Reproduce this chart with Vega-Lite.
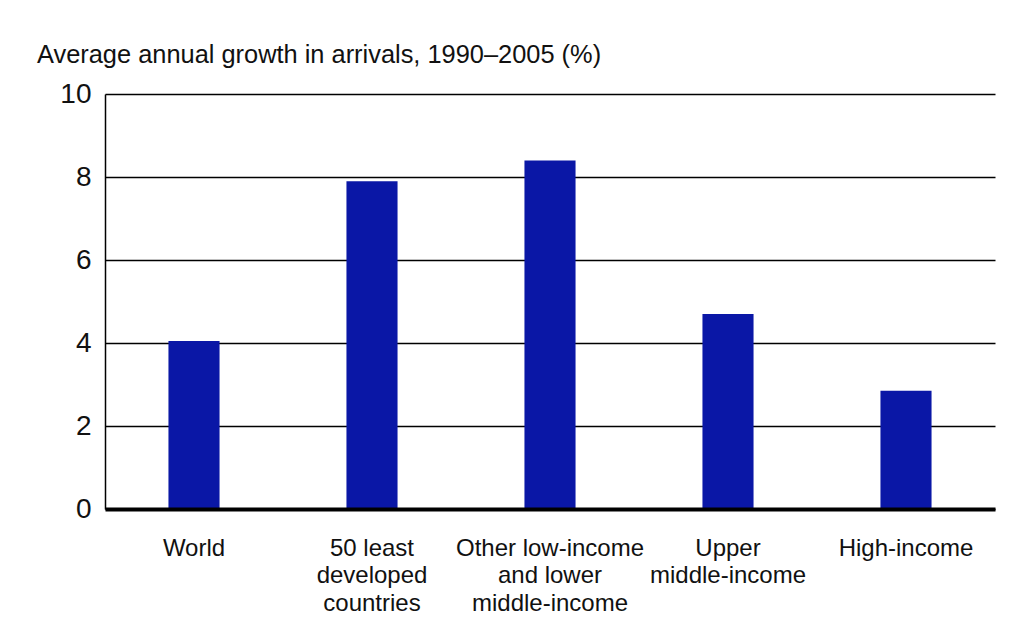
{
  "$schema": "https://vega.github.io/schema/vega-lite/v6.json",
  "autosize": "none",
  "width": 890,
  "height": 415,
  "padding": {"left": 105, "top": 94, "right": 35, "bottom": 113},
  "background": "white",
  "title": {
    "text": "Average annual growth in arrivals, 1990–2005 (%)",
    "anchor": "start",
    "frame": "group",
    "dx": -68,
    "dy": 26,
    "baseline": "alphabetic",
    "offset": 18,
    "font": "Liberation Sans",
    "fontSize": 25.4,
    "fontWeight": "normal",
    "color": "#111111"
  },
  "data": {
    "values": [
      {"group": "World", "growth": 4.05},
      {"group": "50 least developed countries", "growth": 7.9},
      {"group": "Other low-income and lower middle-income", "growth": 8.4},
      {"group": "Upper middle-income", "growth": 4.7},
      {"group": "High-income", "growth": 2.85}
    ]
  },
  "mark": {"type": "bar", "color": "#0a17a6"},
  "encoding": {
    "x": {
      "field": "group",
      "type": "nominal",
      "sort": null,
      "scale": {"paddingInner": 0.713, "paddingOuter": 0.3565},
      "axis": {
        "title": null,
        "zindex": 1,
        "domain": true,
        "domainColor": "#000000",
        "domainWidth": 4,
        "ticks": false,
        "tickSize": 0,
        "labelAngle": 0,
        "labelPadding": 27,
        "labelFont": "Liberation Sans",
        "labelFontSize": 24,
        "labelColor": "#111111",
        "labelLineHeight": 27.5,
        "labelLimit": 400,
        "labelOverlap": false,
        "labelExpr": "datum.value == '50 least developed countries' ? ['50 least', 'developed', 'countries'] : datum.value == 'Other low-income and lower middle-income' ? ['Other low-income', 'and lower', 'middle-income'] : datum.value == 'Upper middle-income' ? ['Upper', 'middle-income'] : datum.value"
      }
    },
    "y": {
      "field": "growth",
      "type": "quantitative",
      "scale": {"domain": [0, 10], "nice": false},
      "axis": {
        "title": null,
        "values": [0, 2, 4, 6, 8, 10],
        "zindex": 0,
        "grid": true,
        "gridColor": "#000000",
        "gridWidth": 1.5,
        "gridOpacity": 1,
        "domain": true,
        "domainColor": "#000000",
        "domainWidth": 1.5,
        "ticks": false,
        "tickSize": 0,
        "labelPadding": 14,
        "labelFont": "Liberation Sans",
        "labelFontSize": 28,
        "labelColor": "#111111"
      }
    }
  },
  "config": {
    "view": {"stroke": null}
  }
}
